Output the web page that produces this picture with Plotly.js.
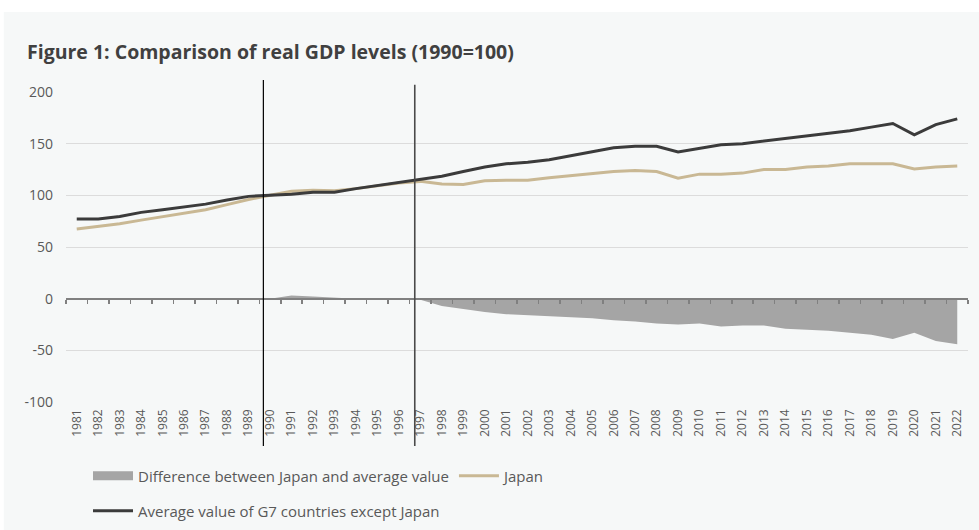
<!DOCTYPE html>
<html>
<head>
<meta charset="utf-8">
<script src="https://cdn.plot.ly/plotly-3.0.1.min.js"></script>
<style>html,body{margin:0;padding:0;background:#fff;}#chart{width:979px;height:530px;}</style>
</head>
<body>
<div id="chart"></div>
<script>
const years = ['1981','1982','1983','1984','1985','1986','1987','1988','1989','1990',
  '1991','1992','1993','1994','1995','1996','1997','1998','1999','2000',
  '2001','2002','2003','2004','2005','2006','2007','2008','2009','2010',
  '2011','2012','2013','2014','2015','2016','2017','2018','2019','2020',
  '2021','2022'];
const japan = [67.5,70,72.5,76,79.5,83,86,91,96,100,
  104,105,104.5,106.5,109.5,112,113.5,111,110.5,114,
  114.5,114.5,117,119,121,123,124,123,116.5,120.5,
  120.5,121.5,125,125,127.5,128.5,130.5,130.5,130.5,125.5,
  127.5,128.5];
const g7Avg = [77,77,79.5,83.5,86,88.5,91.5,95.5,99,100,
  101,103,103,106.5,109.5,112,115,118.5,123,127.5,
  130.5,132,134.5,138.5,142,146,147.5,147.5,142,145.5,
  149,150,152.5,154.5,157,160,162.5,166,169.5,158.5,
  168.5,174];
const difference = [null,null,null,null,null,null,null,null,null,0,
  3,2,1,0,0,0,-1,-7,-10,-13,
  -15,-16,-17,-18,-19,-21,-22,-24,-25,-24,
  -27,-26,-26,-29,-30,-31,-33,-35,-39,-33,
  -41,-44];
const yTickVals = [-100,-50,0,50,100,150,200];
const yTickText = ['-100','-50','0','50','100','150','200'];
const markerYears = ['1990','1997'];

const names = {
  diff: 'Difference between Japan and average value',
  japan: 'Japan',
  avg: 'Average value of G7 countries except Japan'
};
const cGrey = '#a5a5a5', cTan = '#c9b894', cDark = '#3b3b3b';

const traces = [
  {x: years, y: difference, xaxis: 'x2', yaxis: 'y', type: 'scatter', mode: 'lines',
   fill: 'tozeroy', fillcolor: cGrey, line: {width: 0, color: cGrey},
   showlegend: false, hoverinfo: 'skip'},
  {x: [null], y: [null], type: 'scatter', mode: 'lines', name: names.diff,
   line: {color: cGrey, width: 9}, legend: 'legend'},
  {x: years, y: japan, type: 'scatter', mode: 'lines', name: names.japan,
   line: {color: cTan, width: 3}, legend: 'legend'},
  {x: years, y: g7Avg, type: 'scatter', mode: 'lines', name: names.avg,
   line: {color: cDark, width: 3}, legend: 'legend2'}
];

const idx = y => years.indexOf(y);
const shapes = [
  {type: 'rect', xref: 'paper', yref: 'paper', x0: -0.069, x1: 1.02, y0: -0.42, y1: 1.258,
   fillcolor: '#f6f8f8', line: {width: 0}, layer: 'below'},
  {type: 'line', xref: 'x', yref: 'paper', x0: idx(markerYears[0]) - 0.31, x1: idx(markerYears[0]) - 0.31,
   y0: -0.142, y1: 1.039, line: {color: '#000000', width: 1.2}, layer: 'above'},
  {type: 'line', xref: 'x', yref: 'paper', x0: idx(markerYears[1]) - 0.26, x1: idx(markerYears[1]) - 0.26,
   y0: -0.142, y1: 1.023, line: {color: '#4a4a4a', width: 1.6}, layer: 'above'}
];

const font = 'Open Sans, Noto Sans, sans-serif';
const layout = {
  width: 979, height: 530,
  margin: {l: 66, r: 11, t: 92, b: 128},
  paper_bgcolor: '#ffffff', plot_bgcolor: 'rgba(0,0,0,0)',
  font: {family: font, color: '#595959'},
  title: {text: '<b>Figure 1: Comparison of real GDP levels (1990=100)</b>',
    font: {family: font, size: 19.5, color: '#404040'},
    x: 27/979, xanchor: 'left', xref: 'container',
    y: 1 - 52/530, yanchor: 'middle', yref: 'container', automargin: false},
  xaxis: {type: 'category', range: [-0.5, 41.5], tickangle: -90, ticks: '',
    showgrid: false, showline: false, zeroline: false, automargin: false,
    tickfont: {size: 12, color: '#595959'}, ticklabelstandoff: 4},
  xaxis2: {type: 'category', range: [-0.5, 41.5], overlaying: 'x', anchor: 'free', position: 1/3,
    side: 'bottom', showline: true, linecolor: '#808080', linewidth: 2, automargin: false,
    ticks: 'outside', tickson: 'boundaries', ticklen: 4, tickwidth: 1.5, tickcolor: '#808080',
    showticklabels: false, showgrid: false, zeroline: false},
  yaxis: {range: [-100, 200], tickmode: 'array', tickvals: yTickVals, ticktext: yTickText,
    showgrid: true, gridcolor: '#dcdcdc', gridwidth: 1, automargin: false,
    zeroline: false, showline: false, ticks: '', ticklabelstandoff: 12,
    tickfont: {size: 14, color: '#595959'}},
  legend: {orientation: 'h', xref: 'container', yref: 'container', x: 88/979, xanchor: 'left',
    y: 1 - 476/530, yanchor: 'middle',
    bgcolor: 'rgba(0,0,0,0)', font: {size: 15, color: '#595959'}, itemwidth: 40, traceorder: 'normal'},
  legend2: {orientation: 'h', xref: 'container', yref: 'container', x: 88/979, xanchor: 'left',
    y: 1 - 511/530, yanchor: 'middle',
    bgcolor: 'rgba(0,0,0,0)', font: {size: 15, color: '#595959'}, itemwidth: 40},
  shapes: shapes,
  showlegend: true
};

Plotly.newPlot('chart', traces, layout, {displayModeBar: false, staticPlot: true});
</script>
</body>
</html>
